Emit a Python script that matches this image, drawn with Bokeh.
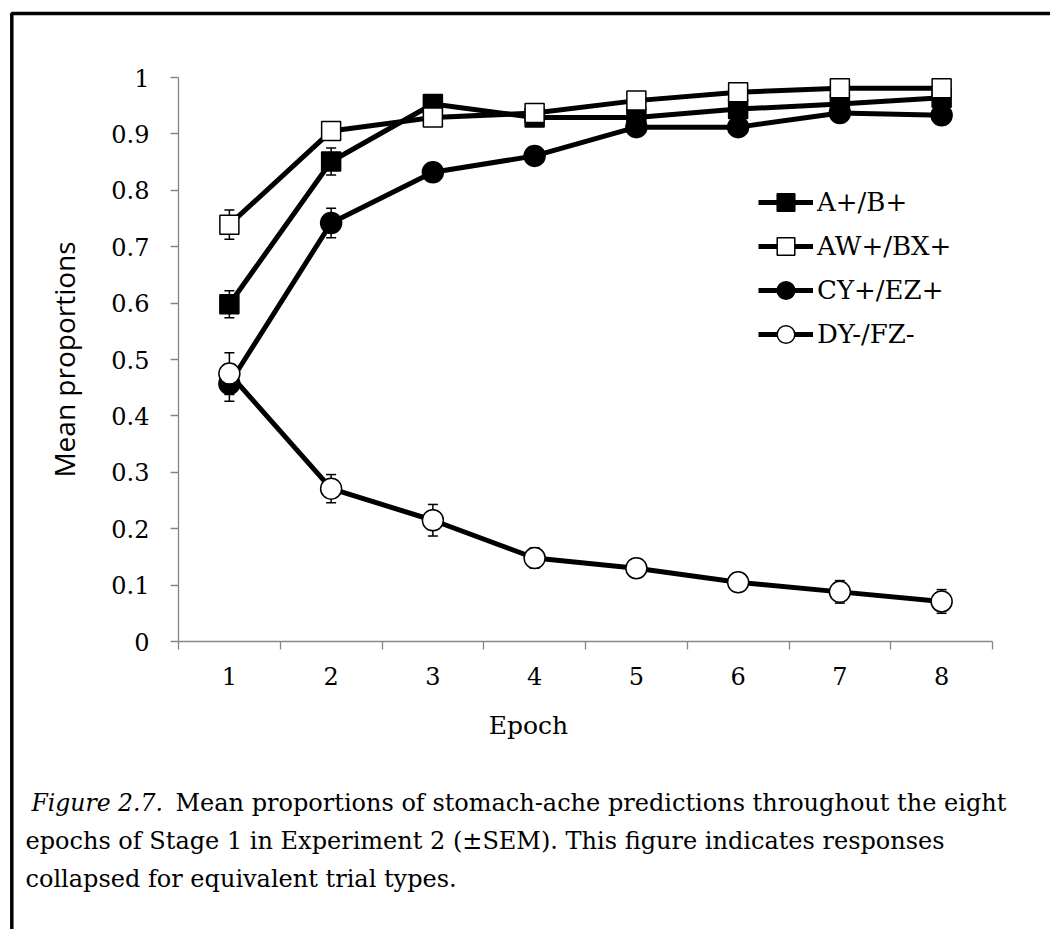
from bokeh.plotting import figure
from bokeh.models import (Range1d, FixedTicker, Whisker, TeeHead, ColumnDataSource,
                          Legend, LegendItem, Label, BoxAnnotation)
from bokeh.embed import file_html
from bokeh.resources import INLINE

# ---------------- data ----------------
epochs = [1, 2, 3, 4, 5, 6, 7, 8]
series_names = ["A+/B+", "AW+/BX+", "CY+/EZ+", "DY-/FZ-"]

mean_ab = [0.598, 0.851, 0.953, 0.929, 0.929, 0.944, 0.953, 0.964]
sem_ab = [0.024, 0.024, 0.010, 0.010, 0.010, 0.010, 0.010, 0.010]

mean_awbx = [0.739, 0.905, 0.929, 0.937, 0.959, 0.974, 0.981, 0.981]
sem_awbx = [0.026, 0.010, 0.010, 0.008, 0.008, 0.008, 0.006, 0.006]

mean_cyez = [0.457, 0.742, 0.832, 0.861, 0.912, 0.912, 0.937, 0.933]
sem_cyez = [0.031, 0.026, 0.016, 0.012, 0.012, 0.016, 0.010, 0.010]

mean_dyfz = [0.475, 0.271, 0.215, 0.148, 0.130, 0.105, 0.088, 0.071]
sem_dyfz = [0.037, 0.025, 0.028, 0.018, 0.010, 0.012, 0.020, 0.021]

y_ticks = [0.0, 0.1, 0.2, 0.3, 0.4, 0.5, 0.6, 0.7, 0.8, 0.9, 1.0]
y_tick_labels = ["0", "0.1", "0.2", "0.3", "0.4", "0.5", "0.6", "0.7", "0.8", "0.9", "1"]
x_tick_labels = ["1", "2", "3", "4", "5", "6", "7", "8"]
x_boundaries = [0.5, 1.5, 2.5, 3.5, 4.5, 5.5, 6.5, 7.5, 8.5]

x_title = "Epoch"
y_title = "Mean proportions"
caption_italic = "Figure 2.7."
caption_lines = [
    "Mean proportions of stomach-ache predictions throughout the eight",
    "epochs of Stage 1 in Experiment 2 (\u00b1SEM). This figure indicates responses",
    "collapsed for equivalent trial types.",
]

# ---------------- layout (pixels) ----------------
W, H = 1050, 929
PLOT_L, PLOT_R, PLOT_T, PLOT_B = 178, 992, 77, 641      # plot-area box on the canvas
X_LO, X_HI = 0.5, 8.5
Y_LO, Y_HI = 0.0, 1.0
px_x = (PLOT_R - PLOT_L) / (X_HI - X_LO)
px_y = (PLOT_B - PLOT_T) / (Y_HI - Y_LO)
x_range = Range1d(X_LO - PLOT_L / px_x, X_HI + (W - PLOT_R) / px_x)
y_range = Range1d(Y_LO - (H - PLOT_B) / px_y, Y_HI + PLOT_T / px_y)

SERIF = "DejaVu Serif"
AXIS_GREY = "#868686"
styles = [
    dict(marker="square", size=19, fill_color="black"),
    dict(marker="square", size=19, fill_color="white"),
    dict(marker="circle", size=21, fill_color="black"),
    dict(marker="circle", size=21, fill_color="white"),
]

p = figure(width=W, height=H, x_range=x_range, y_range=y_range,
           output_backend="svg", toolbar_location=None, title=None,
           min_border=0)
p.outline_line_color = None
p.xgrid.visible = False
p.ygrid.visible = False
p.background_fill_color = "white"
p.border_fill_color = "white"

# x axis: ticks at category boundaries, labels centred in categories
p.xaxis.fixed_location = Y_LO
p.xaxis.bounds = (X_LO, X_HI)
p.xaxis.ticker = FixedTicker(ticks=epochs, minor_ticks=x_boundaries)
p.xaxis.major_label_overrides = {e: l for e, l in zip(epochs, x_tick_labels)}
p.xaxis.major_tick_out = 0
p.xaxis.major_tick_in = 0
p.xaxis.minor_tick_out = 8
p.xaxis.minor_tick_in = 0
p.xaxis.minor_tick_line_color = AXIS_GREY
p.xaxis.minor_tick_line_width = 1.3
p.xaxis.axis_line_color = AXIS_GREY
p.xaxis.axis_line_width = 1.3
p.xaxis.major_label_text_font = SERIF
p.xaxis.major_label_text_font_size = "24px"
p.xaxis.major_label_text_color = "black"
p.xaxis.major_label_standoff = 17

p.yaxis.fixed_location = X_LO
p.yaxis.bounds = (Y_LO, Y_HI)
p.yaxis.ticker = FixedTicker(ticks=y_ticks, minor_ticks=[])
p.yaxis.major_label_overrides = {t: l for t, l in zip(y_ticks, y_tick_labels)}
p.yaxis.major_tick_out = 8
p.yaxis.major_tick_in = 0
p.yaxis.major_tick_line_color = AXIS_GREY
p.yaxis.major_tick_line_width = 1.3
p.yaxis.axis_line_color = AXIS_GREY
p.yaxis.axis_line_width = 1.3
p.yaxis.major_label_text_font = SERIF
p.yaxis.major_label_text_font_size = "24px"
p.yaxis.major_label_text_color = "black"
p.yaxis.major_label_standoff = 21
p.yaxis.axis_label = y_title
p.yaxis.axis_label_text_font = "Open Sans"
p.yaxis.axis_label_text_font_size = "28px"
p.yaxis.axis_label_text_font_style = "normal"
p.yaxis.axis_label_text_color = "black"
p.yaxis.axis_label_standoff = 25

# ---------------- series ----------------
all_means = [mean_ab, mean_awbx, mean_cyez, mean_dyfz]
all_sems = [sem_ab, sem_awbx, sem_cyez, sem_dyfz]
legend_items = []
for name, means, sems, st in zip(series_names, all_means, all_sems, styles):
    src = ColumnDataSource(dict(
        x=epochs, y=means,
        upper=[m + s for m, s in zip(means, sems)],
        lower=[m - s for m, s in zip(means, sems)],
    ))
    ln = p.line("x", "y", source=src, line_width=5, line_color="black")
    wh = Whisker(base="x", upper="upper", lower="lower", source=src,
                 line_color="black", line_width=1.5, level="underlay",
                 upper_head=TeeHead(size=10, line_width=1.5, line_color="black"),
                 lower_head=TeeHead(size=10, line_width=1.5, line_color="black"))
    p.add_layout(wh)
    sc = p.scatter("x", "y", source=src, marker=st["marker"], size=st["size"],
                   fill_color=st["fill_color"], line_color="black", line_width=1.5)
    legend_items.append(LegendItem(label=name, renderers=[ln, sc]))

legend = Legend(items=legend_items, location=(758, H - 356),
                glyph_width=55, glyph_height=44, spacing=0, padding=0,
                label_standoff=4, label_text_font=SERIF, label_text_font_size="26px",
                label_text_color="black", background_fill_alpha=0,
                border_line_alpha=0, margin=0)
p.add_layout(legend)

# ---------------- texts (screen units = canvas pixels, y measured upward) ----------------
def add_text(text, x, y_from_top, size, style="normal", align="left", font=SERIF):
    p.add_layout(Label(x=x, y=H - y_from_top, x_units="screen", y_units="screen",
                       text=text, text_font=font, text_font_size=size,
                       text_font_style=style, text_color="black",
                       text_align=align, text_baseline="alphabetic"))

add_text(x_title, 528, 725, "25px", align="center")
add_text(caption_italic, 31, 802, "23.5px", style="italic")
add_text(caption_lines[0], 175, 802, "24px")
add_text(caption_lines[1], 25, 840, "24px")
add_text(caption_lines[2], 25, 878, "24px")

# page frame (left and top edges visible)
p.add_layout(BoxAnnotation(left=11.3, right=5000, top=H - 13, bottom=-5000,
                           left_units="screen", right_units="screen",
                           top_units="screen", bottom_units="screen",
                           fill_alpha=0, line_color="black", line_alpha=1.0,
                           line_width=3.5, level="overlay"))

open("out.html", "w").write(file_html(p, INLINE))
